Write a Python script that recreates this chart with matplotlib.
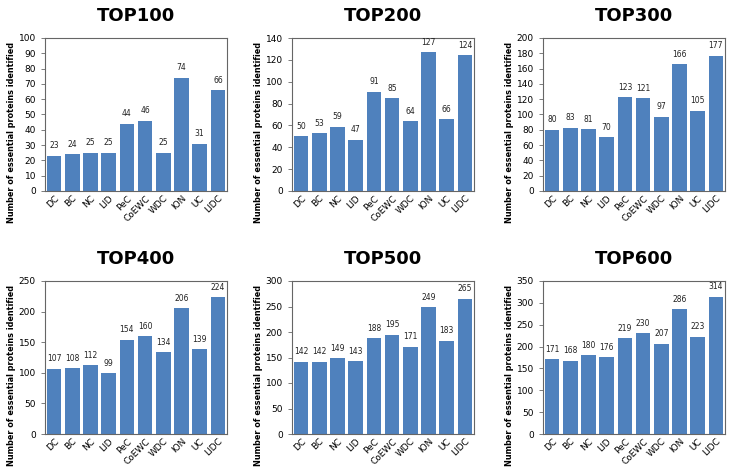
import numpy as np
import matplotlib.pyplot as plt

methods = ['DC', 'BC', 'NC', 'LID', 'PeC', 'CoEWC', 'WDC', 'ION', 'UC', 'LIDC']

top100 = [23, 24, 25, 25, 44, 46, 25, 74, 31, 66]
top200 = [50, 53, 59, 47, 91, 85, 64, 127, 66, 124]
top300 = [80, 83, 81, 70, 123, 121, 97, 166, 105, 177]
top400 = [107, 108, 112, 99, 154, 160, 134, 206, 139, 224]
top500 = [142, 142, 149, 143, 188, 195, 171, 249, 183, 265]
top600 = [171, 168, 180, 176, 219, 230, 207, 286, 223, 314]

titles = ['TOP100', 'TOP200', 'TOP300', 'TOP400', 'TOP500', 'TOP600']
series = [top100, top200, top300, top400, top500, top600]
ymax = [100, 140, 200, 250, 300, 350]
ystep = [10, 20, 20, 50, 50, 50]

W, H = 730, 472
fig = plt.figure(figsize=(W / 100, H / 100), dpi=100)

lefts = [45, 292, 543]
tops = [38, 281]
aw, ah = 182, 153
color = '#4F81BD'

for i in range(6):
    r, c = divmod(i, 3)
    x0, y0 = lefts[c], tops[r]
    ax = fig.add_axes([x0 / W, 1 - (y0 + ah) / H, aw / W, ah / H])
    vals = series[i]
    x = np.arange(len(methods))
    ax.bar(x, vals, width=0.8, color=color)
    for xi, v in zip(x, vals):
        ax.text(xi, v + ymax[i] * 0.035, str(v), ha='center', va='bottom',
                fontsize=5.5, color='#222222')
    ax.set_xlim(-0.5, len(methods) - 0.5)
    ax.set_ylim(0, ymax[i])
    ax.set_yticks(np.arange(0, ymax[i] + 1, ystep[i]))
    ax.set_xticks(x)
    ax.set_xticklabels(methods, rotation=45, ha='right', rotation_mode='anchor', fontsize=6.5)
    ax.tick_params(axis='y', labelsize=6.5, length=3, width=0.6, color='#666666')
    ax.tick_params(axis='x', length=0, pad=2)
    for s in ax.spines.values():
        s.set_color('#666666')
        s.set_linewidth(0.8)
    ax.set_ylabel('Number of essential proteins identified', fontsize=5.9,
                  fontweight='bold')
    ax.yaxis.set_label_coords(-0.16, 0.38)
    ax.set_title(titles[i], fontsize=13, fontweight='bold', pad=12)

fig.savefig('out.png', dpi=100)
